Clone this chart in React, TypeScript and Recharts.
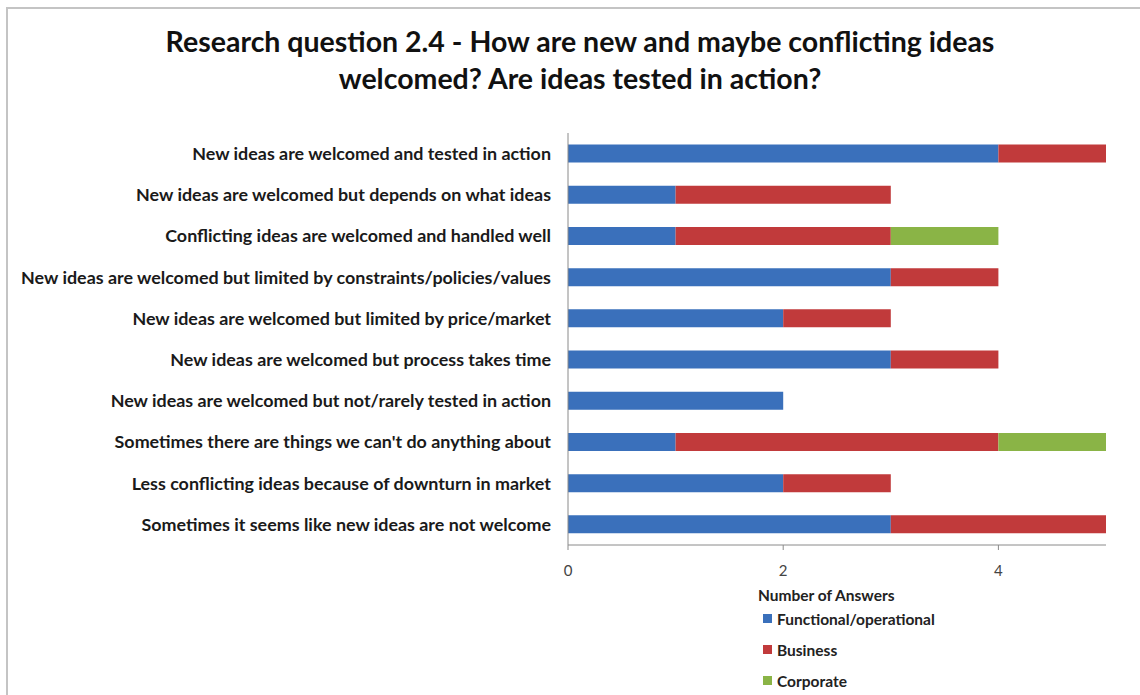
import { BarChart, Bar, XAxis, YAxis } from 'recharts';

const categories = [
  'New ideas are welcomed and tested in action',
  'New ideas are welcomed but depends on what ideas',
  'Conflicting ideas are welcomed and handled well',
  'New ideas are welcomed but limited by constraints/policies/values',
  'New ideas are welcomed but limited by price/market',
  'New ideas are welcomed but process takes time',
  'New ideas are welcomed but not/rarely tested in action',
  "Sometimes there are things we can't do anything about",
  'Less conflicting ideas because of downturn in market',
  'Sometimes it seems like new ideas are not welcome',
];

const functional = [4, 1, 1, 3, 2, 3, 2, 1, 2, 3];
const business = [1, 2, 2, 1, 1, 1, 0, 3, 1, 2];
const corporate = [0, 0, 1, 0, 0, 0, 0, 1, 0, 0];

const xTicks = [0, 2, 4];

const series = [
  { key: 'functional', name: 'Functional/operational', color: '#3a70bb' },
  { key: 'business', name: 'Business', color: '#c13a3b' },
  { key: 'corporate', name: 'Corporate', color: '#8ab446' },
];

const data = categories.map((label, i) => ({
  label,
  functional: functional[i],
  business: business[i],
  corporate: corporate[i],
}));

const FONT = 'Lato, "Open Sans", sans-serif';

function LegendBox() {
  return (
    <div style={{ position: 'absolute', left: 758, top: 586, fontFamily: FONT, color: '#222' }}>
      <div style={{ fontSize: 15.5, fontWeight: 700, height: 17 }}>Number of Answers</div>
      {series.map((s) => (
        <div key={s.key} style={{ display: 'flex', alignItems: 'center', height: 31, fontSize: 15.5, fontWeight: 700 }}>
          <span style={{ width: 9, height: 9, background: s.color, marginLeft: 5, marginRight: 5, display: 'inline-block' }} />
          {s.name}
        </div>
      ))}
    </div>
  );
}

export default function App() {
  return (
    <div style={{ position: 'absolute', left: 0, top: 0, width: 1140, height: 695, background: '#fff', overflow: 'hidden' }}>
      <div
        style={{
          position: 'absolute',
          left: 6,
          top: 7,
          width: 1200,
          height: 800,
          borderTop: '2px solid #c4c4c4',
          borderLeft: '2px solid #c4c4c4',
        }}
      />
      <div
        style={{
          position: 'absolute',
          left: 0,
          top: 23,
          width: 1160,
          textAlign: 'center',
          fontFamily: FONT,
          fontWeight: 700,
          fontSize: 28.5,
          lineHeight: '37px',
          color: '#111',
        }}
      >
        Research question 2.4 - How are new and maybe conflicting ideas
        <br />
        welcomed? Are ideas tested in action?
      </div>
      <div style={{ position: 'absolute', left: 0, top: 0 }}>
        <BarChart
          width={1140}
          height={695}
          data={data}
          layout="vertical"
          barCategoryGap="28%"
          margin={{ top: 133, right: 34, bottom: 120, left: 0 }}
        >
          <XAxis
            type="number"
            domain={[0, 5]}
            ticks={xTicks}
            allowDecimals={false}
            height={30}
            stroke="#8a8a8a"
            tickSize={5}
            tick={{ fill: '#444', fontSize: 15, fontFamily: FONT }}
            tickMargin={15}
          />
          <YAxis
            type="category"
            dataKey="label"
            width={568}
            stroke="#8a8a8a"
            tickLine={false}
            tickSize={6}
            tickMargin={11}
            tick={{ fill: '#1a1a1a', fontSize: 17.9, fontWeight: 700, fontFamily: FONT }}
            interval={0}
          />
          {series.map((s) => (
            <Bar key={s.key} dataKey={s.key} name={s.name} stackId="a" fill={s.color} isAnimationActive={false} />
          ))}
        </BarChart>
      </div>
      <LegendBox />
    </div>
  );
}
